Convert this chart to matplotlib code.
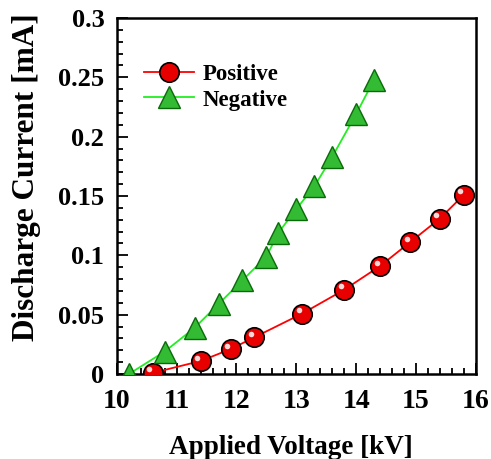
import matplotlib
matplotlib.use("Agg")
import matplotlib.pyplot as plt
import matplotlib.transforms as mtransforms
from matplotlib.ticker import MultipleLocator, FuncFormatter

# values
pos_kv = [10.6, 11.4, 11.9, 12.3, 13.1, 13.8, 14.4, 14.9, 15.4, 15.8]
pos_ma = [0.001, 0.011, 0.021, 0.031, 0.051, 0.071, 0.091, 0.111, 0.131, 0.151]
neg_kv = [10.2, 10.8, 11.3, 11.7, 12.1, 12.5, 12.7, 13.0, 13.3, 13.6, 14.0, 14.3]
neg_ma = [0.0, 0.019, 0.039, 0.059, 0.079, 0.099, 0.119, 0.139, 0.158, 0.183, 0.219, 0.248]
x_ticks = [10, 11, 12, 13, 14, 15, 16]
y_ticks = [0, 0.05, 0.1, 0.15, 0.2, 0.25, 0.3]

plt.rcParams["font.family"] = ["Liberation Serif", "DejaVu Serif"]
plt.rcParams["font.weight"] = "bold"

fig = plt.figure(figsize=(4.91, 4.59), dpi=100)
ax = fig.add_axes([0.238, 0.185, 0.731, 0.776])

ax.plot(pos_kv, pos_ma, color="#ff0000", lw=1.3, marker="o", ms=14,
        mfc="#e80000", mec="black", mew=1.2, label="Positive", zorder=3)
# small highlight on the spheres
hl = mtransforms.offset_copy(ax.transData, fig=fig, x=-2.5, y=2.5, units="points")
ax.plot(pos_kv, pos_ma, ls="none", marker="o", ms=4, mfc="white", mec="none",
        alpha=0.85, transform=hl, zorder=4)

ax.plot(neg_kv, neg_ma, color="#22ee22", lw=1.3, marker="^", ms=16,
        mfc="#33bb33", mec="#0a6a0a", mew=1.0, label="Negative", zorder=3)

ax.set_xlim(10, 16)
ax.set_ylim(0, 0.3)
ax.set_xticks(x_ticks)
ax.set_yticks(y_ticks)
ax.xaxis.set_minor_locator(MultipleLocator(0.2))
ax.yaxis.set_minor_locator(MultipleLocator(0.01))
ax.yaxis.set_major_formatter(FuncFormatter(lambda v, p: f"{v:g}"))

ax.tick_params(which="both", direction="in", top=False, right=False, width=1.3)
ax.tick_params(which="major", length=8, labelsize=19, pad=11)
ax.tick_params(axis="x", which="major", labelsize=20)
ax.tick_params(axis="y", which="major", pad=9)
ax.tick_params(which="minor", length=4)
for s in ax.spines.values():
    s.set_linewidth(1.8)

ax.set_xlabel("Applied Voltage [kV]", fontsize=19.5, fontweight="bold")
ax.set_ylabel("Discharge Current [mA]", fontsize=22.5, fontweight="bold")
ax.xaxis.set_label_coords(0.486, -0.172)
ax.yaxis.set_label_coords(-0.21, 0.553)

leg = ax.legend(loc="upper left", bbox_to_anchor=(0.075, 0.871), frameon=False,
                fontsize=16.5, handlelength=2.2, handletextpad=0.35,
                labelspacing=0.2, borderpad=0, borderaxespad=0)

fig.savefig("out.png", dpi=100)
